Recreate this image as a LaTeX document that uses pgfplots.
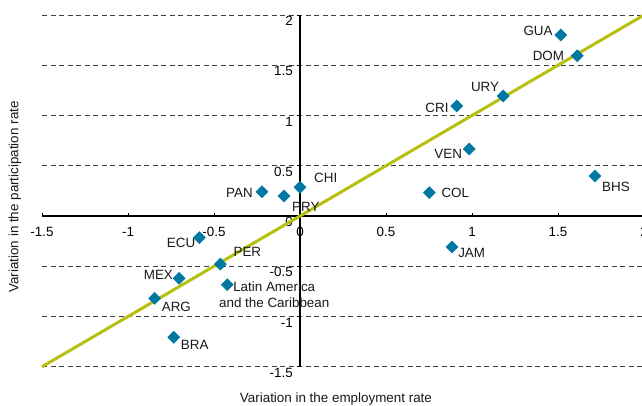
\documentclass[border=0pt]{standalone}
\usepackage{fontspec}
\setmainfont{Liberation Sans}
\usepackage{pgfplots}
\pgfplotsset{compat=1.18}
\definecolor{markblue}{RGB}{0,120,162}
\definecolor{trend}{RGB}{183,191,16}
\begin{document}
\fontsize{13.4}{16}\selectfont
\begin{tikzpicture}
\begin{axis}[
  scale only axis, width=602pt, height=351.75pt,
  xmin=-1.5, xmax=2, ymin=-1.5, ymax=2,
  axis lines=middle,
  axis line style={line width=1.1pt, -},
  xtick={-1.5,-1,-0.5,0,0.5,1,1.5,2},
  ytick={-1.5,-1,-0.5,0,0.5,1,1.5,2},
  hide obscured x ticks=false, hide obscured y ticks=false,
  tick align=inside, major tick length=3pt,
  tick style={black, line width=0.8pt},
  every y tick/.append style={xshift=-3pt},
  ymajorgrids,
  grid style={black!75, line width=0.8pt, dash pattern=on 5pt off 3.5pt},
  xticklabel style={anchor=north, inner sep=0pt, yshift=-11pt},
  yticklabel style={anchor=east, inner sep=0pt, xshift=-7pt, yshift=-6pt},
  /pgf/number format/assume math mode=true,
  clip=false,
]
\addplot[trend, line width=3pt] coordinates {(-1.5,-1.5) (2,2)};
\addplot[only marks, mark=square*, mark size=4.3pt, mark options={rotate=45, fill=markblue, draw=markblue}] coordinates {
(1.516,1.80) (1.612,1.595) (1.182,1.194) (0.911,1.095) (0.984,0.667)
(0.752,0.232) (1.715,0.398) (0.0,0.285) (-0.221,0.242) (-0.093,0.199)
(-0.585,-0.216) (-0.463,-0.478) (-0.703,-0.62) (-0.423,-0.683)
(-0.845,-0.819) (-0.734,-1.207) (0.884,-0.308)
};
\begin{scope}[every node/.style={inner sep=0pt, text=black!90}]
\node[anchor=east] at ([xshift=-8pt,yshift=4pt]axis cs:1.516,1.80) {GUA};
\node[anchor=east] at ([xshift=-13pt,yshift=0pt]axis cs:1.612,1.595) {DOM};
\node[anchor=east] at ([xshift=-4pt,yshift=9pt]axis cs:1.182,1.194) {URY};
\node[anchor=east] at ([xshift=-8pt,yshift=-2pt]axis cs:0.911,1.095) {CRI};
\node[anchor=east] at ([xshift=-7pt,yshift=-5pt]axis cs:0.984,0.667) {VEN};
\node[anchor=west] at ([xshift=12pt,yshift=0pt]axis cs:0.752,0.232) {COL};
\node[anchor=west] at ([xshift=7pt,yshift=-11pt]axis cs:1.715,0.398) {BHS};
\node[anchor=west] at ([xshift=14pt,yshift=9pt]axis cs:0.0,0.285) {CHI};
\node[anchor=east] at ([xshift=-9pt,yshift=-1pt]axis cs:-0.221,0.242) {PAN};
\node[anchor=west] at ([xshift=8pt,yshift=-11pt]axis cs:-0.093,0.199) {PRY};
\node[anchor=east] at ([xshift=-4pt,yshift=-5pt]axis cs:-0.585,-0.216) {ECU};
\node[anchor=west] at ([xshift=13pt,yshift=12pt]axis cs:-0.463,-0.478) {PER};
\node[anchor=east] at ([xshift=-6pt,yshift=3pt]axis cs:-0.703,-0.62) {MEX};
\node[align=center, anchor=center] at ([xshift=47pt,yshift=-10pt]axis cs:-0.423,-0.683) {Latin America\\and the Caribbean};
\node[anchor=west] at ([xshift=7pt,yshift=-9pt]axis cs:-0.845,-0.819) {ARG};
\node[anchor=west] at ([xshift=7pt,yshift=-8pt]axis cs:-0.734,-1.207) {BRA};
\node[anchor=west] at ([xshift=6pt,yshift=-6pt]axis cs:0.884,-0.308) {JAM};
\end{scope}
\coordinate (LL) at (axis cs:-1.5,-1.5);
\coordinate (UR) at (axis cs:2,2);
\coordinate (YL) at (axis cs:-1.5,0.19);
\coordinate (XL) at (axis cs:0.209,-1.5);
\end{axis}
\node[rotate=90, anchor=center, text=black!90] at ([xshift=-27pt]YL) {Variation in the participation rate};
\node[anchor=center, text=black!90] at ([yshift=-32pt]XL) {Variation in the employment rate};
\pgfresetboundingbox
\path[use as bounding box] ([xshift=-42pt,yshift=-39pt]LL) rectangle ([xshift=-2pt,yshift=15pt]UR);
\end{tikzpicture}
\end{document}
